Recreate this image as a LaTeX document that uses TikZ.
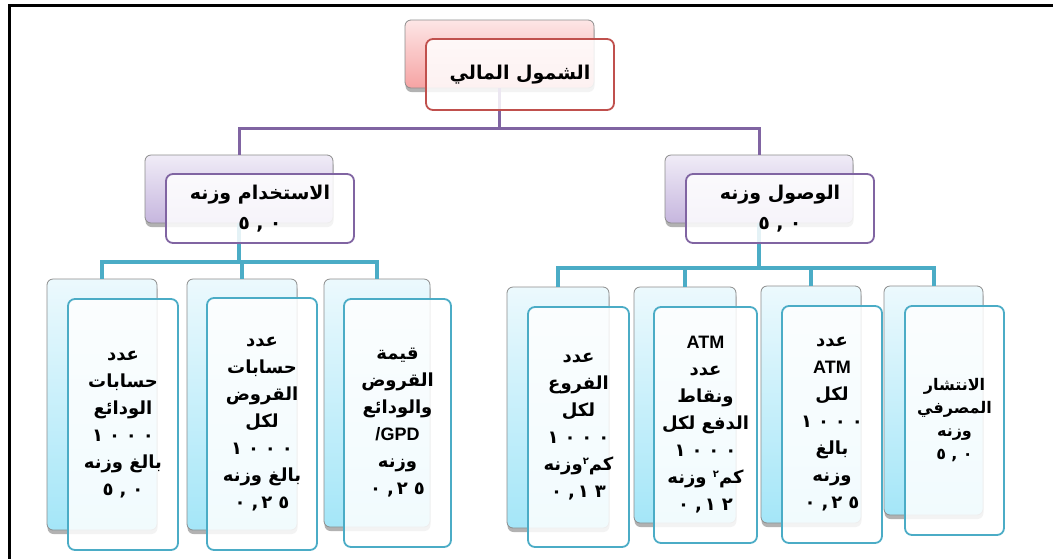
\documentclass[tikz,border=0pt]{standalone}
\usepackage{fontspec}
\setmainfont{Liberation Sans}
\newfontfamily\arabicfont[Script=Arabic]{DejaVu Sans}
\TeXXeTstate=1
\usetikzlibrary{shadows}

\definecolor{edgegray}{HTML}{8C8C8C}
\definecolor{pinktop}{HTML}{FDE6E6}
\definecolor{pinkbot}{HTML}{F6A3A3}
\definecolor{pinkedge}{HTML}{C0504D}
\definecolor{lilactop}{HTML}{F0ECF7}
\definecolor{lilacbot}{HTML}{C6B6DE}
\definecolor{lilacedge}{HTML}{8064A2}
\definecolor{cyantop}{HTML}{ECF9FD}
\definecolor{cyanbot}{HTML}{A4E6F8}
\definecolor{cyanedge}{HTML}{4BACC6}

\newcommand\artxt[1]{\beginR#1\endR}
\newcommand\lattxt[1]{\beginL#1\endL}
\newcommand\sqr{\raisebox{0.7ex}{\fontsize{10}{10}\selectfont ٢}}
\newcommand\thou{\lattxt{١\,\,٠\,\,٠\,\,٠}}

\tikzset{
  backbox/.style={draw=edgegray, line width=0.8pt, rounded corners=6pt, inner sep=0pt,
    drop shadow={shadow xshift=0.5pt, shadow yshift=-4pt, opacity=0.3, fill=black}},
  pinkbox/.style={backbox, top color=pinktop, bottom color=pinkbot},
  lilacbox/.style={backbox, top color=lilactop, bottom color=lilacbot},
  cyanbox/.style={backbox, top color=cyantop, bottom color=cyanbot},
  frontbox/.style={draw=#1, line width=1.8pt, rounded corners=7pt, inner sep=0pt,
    fill=white, fill opacity=0.85, text opacity=1, align=center},
  headtxt/.style={font=\arabicfont\bfseries\fontsize{19}{30}\selectfont},
  leaftxt/.style={font=\arabicfont\bfseries\fontsize{18}{27}\selectfont},
  smalltxt/.style={font=\arabicfont\bfseries\fontsize{16}{23}\selectfont},
  purplelink/.style={draw=lilacedge, line width=3pt},
  cyanlink/.style={draw=cyanedge, line width=4pt}
}

\begin{document}
\begin{tikzpicture}[x=1pt, y=-1pt]
\useasboundingbox (0,0) rectangle (1053,558);
\draw[line width=3pt] (9,560) -- (9,5) -- (1060,5);

% back boxes
\node[pinkbox, minimum width=189pt, minimum height=68pt] (topb) at (499.5,54) {};
\node[lilacbox, minimum width=188pt, minimum height=68pt] (useb) at (239,189) {};
\node[lilacbox, minimum width=188pt, minimum height=68pt] (accb) at (759,189) {};
\node[cyanbox, minimum width=110pt, minimum height=251pt] (l1b) at (102,404.5) {};
\node[cyanbox, minimum width=110pt, minimum height=251pt] (l2b) at (242,404.5) {};
\node[cyanbox, minimum width=106pt, minimum height=248pt] (l3b) at (377,403) {};
\node[cyanbox, minimum width=102pt, minimum height=241pt] (r1b) at (558,407.5) {};
\node[cyanbox, minimum width=102pt, minimum height=236pt] (r2b) at (685,405) {};
\node[cyanbox, minimum width=100pt, minimum height=237pt] (r3b) at (811,404.5) {};
\node[cyanbox, minimum width=99pt, minimum height=229pt] (r4b) at (933.5,400.5) {};

% links
\coordinate (topbus) at (499.5,128);
\coordinate (usebus) at (239,262);
\coordinate (accbus) at (759,268);
\path[purplelink] (topb.south) -- (topbus) -| (useb.north);
\path[purplelink] (topbus) -| (accb.north);
\path[cyanlink] (useb.south) -- (usebus) -| (l1b.north);
\path[cyanlink] (usebus) -| (l2b.north);
\path[cyanlink] (usebus) -| (l3b.north);
\path[cyanlink] (accb.south) -- (accbus) -| (r1b.north);
\path[cyanlink] (accbus) -| (r2b.north);
\path[cyanlink] (accbus) -| (r3b.north);
\path[cyanlink] (accbus) -| (r4b.north);

% front boxes
\node[frontbox=pinkedge, headtxt, minimum width=188pt, minimum height=71pt] (top) at (520,74.5)
  {\artxt{الشمول المالي}};
\node[frontbox=lilacedge, headtxt, minimum width=188pt, minimum height=69pt] (use) at (260,208.5)
  {\artxt{الاستخدام وزنه}\\\lattxt{٥\,\,,\,\,٠}};
\node[frontbox=lilacedge, headtxt, minimum width=188pt, minimum height=69pt] (acc) at (780,208.5)
  {\artxt{الوصول وزنه}\\\lattxt{٥\,\,,\,\,٠}};
\node[frontbox=cyanedge, leaftxt, minimum width=110pt, minimum height=251pt] (l1) at (123,424.5)
  {\artxt{عدد}\\\artxt{حسابات}\\\artxt{الودائع}\\\thou\\\artxt{بالغ وزنه}\\\lattxt{٥\,\,,\,\,٠}};
\node[frontbox=cyanedge, leaftxt, minimum width=110pt, minimum height=252pt] (l2) at (262,424)
  {\artxt{عدد}\\\artxt{حسابات}\\\artxt{القروض}\\\artxt{لكل}\\\thou\\\artxt{بالغ وزنه}\\\lattxt{٠\,\,,\,٢\,\,٥}};
\node[frontbox=cyanedge, leaftxt, minimum width=107pt, minimum height=248pt] (l3) at (397.5,423)
  {\artxt{قيمة}\\\artxt{القروض}\\\artxt{والودائع}\\{\rmfamily\bfseries\lattxt{/GPD}}\\\artxt{وزنه}\\\lattxt{٠\,\,,\,٢\,\,٥}};
\node[frontbox=cyanedge, leaftxt, minimum width=101pt, minimum height=240pt] (r1) at (578.5,427)
  {\artxt{عدد}\\\artxt{الفروع}\\\artxt{لكل}\\\thou\\\artxt{كم\sqr وزنه}\\\lattxt{٠\,\,,\,١\,\,٣}};
\node[frontbox=cyanedge, leaftxt, minimum width=103pt, minimum height=236pt] (r2) at (705.5,425)
  {{\rmfamily\bfseries ATM}\\\artxt{عدد}\\\artxt{ونقاط}\\\artxt{الدفع لكل}\\\thou\\\artxt{كم\sqr{} وزنه}\\\lattxt{٠\,\,,\,١\,\,٢}};
\node[frontbox=cyanedge, leaftxt, minimum width=100pt, minimum height=237pt] (r3) at (832,424.5)
  {\artxt{عدد}\\{\rmfamily\bfseries ATM}\\\artxt{لكل}\\\thou\\\artxt{بالغ}\\\artxt{وزنه}\\\lattxt{٠\,\,,\,٢\,\,٥}};
\node[frontbox=cyanedge, smalltxt, minimum width=99pt, minimum height=229pt] (r4) at (954.5,420.5)
  {\artxt{الانتشار}\\\artxt{المصرفي}\\\artxt{وزنه}\\\lattxt{٥\,\,,\,\,٠}};
\end{tikzpicture}
\end{document}
